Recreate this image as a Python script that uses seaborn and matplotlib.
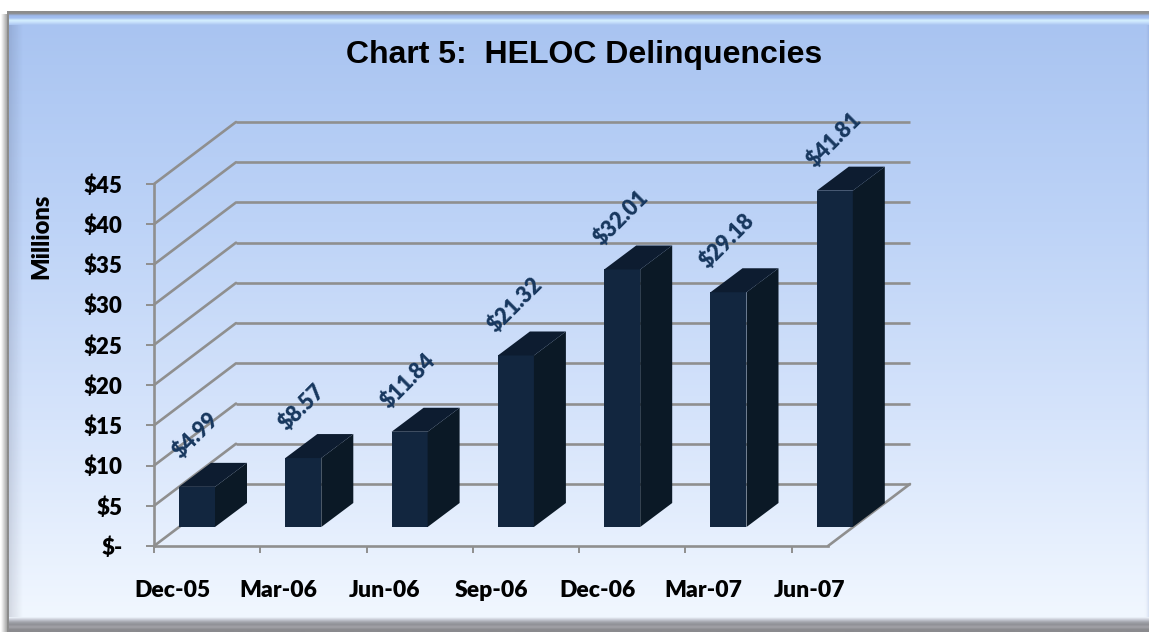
# Chart 5: HELOC delinquencies, fake 3D columns on a bevelled blue panel
import numpy as np
import pandas as pd
import matplotlib
matplotlib.use('Agg')
import matplotlib.pyplot as plt
from matplotlib.colors import LinearSegmentedColormap
from matplotlib.transforms import ScaledTranslation
import seaborn as sns

months = ['Dec-05', 'Mar-06', 'Jun-06', 'Sep-06', 'Dec-06', 'Mar-07', 'Jun-07']
values = [4.99, 8.57, 11.84, 21.32, 32.01, 29.18, 41.81]
value_labels = ['$4.99', '$8.57', '$11.84', '$21.32', '$32.01', '$29.18', '$41.81']
y_ticks = [0, 5, 10, 15, 20, 25, 30, 35, 40, 45]
y_tick_labels = ['$-', '$5', '$10', '$15', '$20', '$25', '$30', '$35', '$40', '$45']

W, H = 1149, 632
LEFT, RIGHT, BOTTOM, TOP = 154, 828, 546, 184
PX_X = 106.3                    # pixels per category
PX_Y = (BOTTOM - TOP) / 45      # pixels per dollar
GRID = '#8f8f8f'
BODY = 'Lato'

sns.set_theme(style='white')
plt.rcParams['font.family'] = [BODY, 'DejaVu Sans']

fig = plt.figure(figsize=(W / 100, H / 100), dpi=100, facecolor='white')

# panel background
bg = fig.add_axes([0, 0, 1, 1])


def band(x0, x1, y0, y1, colors, vertical=True):
    cmap = LinearSegmentedColormap.from_list('b', colors, N=256)
    g = np.linspace(0, 1, 256)
    g = g[:, None] if vertical else g[None, :]
    bg.imshow(g, cmap=cmap, extent=(x0, x1, y1, y0), aspect='auto',
              vmin=0, vmax=1, origin='upper', interpolation='bilinear')


band(1, 8, 14, H, [(0.55, 0.55, 0.55, 0), (0.55, 0.55, 0.55, 0.9)], vertical=False)
band(7, W, 24, 618, ['#a9c4f1', '#bdd3f7', '#d6e4fb', '#f1f7ff'])
band(9, 23, 24, 618, [(0, 0, 0.1, 0.12), (0, 0, 0.1, 0)], vertical=False)
band(1144, W, 24, 618, [(1, 1, 1, 0), (0.35, 0.45, 0.7, 0.18)], vertical=False)
band(7, W, 11, 25, ['#8c8c8c', '#8c8c8c', '#9db9ee', '#a4bff0', '#d6f1ff',
                    '#c3dcfa', '#a9c4f1'])
band(7, W, 617, H, ['#f1f7ff', '#c9ccd6', '#a2a4ac', '#8f9096', '#a3a3a8',
                    '#8a8a8e', '#8a8a8e'])
band(7, 9, 11, H, ['#8c8c8c', '#8c8c8c'])
bg.set_xlim(0, W)
bg.set_ylim(H, 0)
bg.axis('off')

bg.text(584, 55, 'Chart 5:  HELOC Delinquencies', family='Liberation Sans',
        weight='bold', fontsize=23, color='black', ha='center', va='center')
bg.text(41, 236, 'Millions', weight='heavy', fontsize=17, color='black',
        rotation=90, ha='center', va='center')

# plot area = front plane of the box
ax = fig.add_axes([LEFT / W, (H - BOTTOM) / H, (RIGHT - LEFT) / W, (BOTTOM - TOP) / H])
ax.patch.set_alpha(0)

df = pd.DataFrame({'month': months, 'value': values})
sns.barplot(data=df, x='month', y='value', color='#12263f', saturation=1,
            width=36 / PX_X, ax=ax, zorder=3, linewidth=0)

xmax = (RIGHT - LEFT) / PX_X
ax.set_xlim(0, xmax)
ax.set_ylim(0, 45)

# depth of the box walls and of the columns, pixels to data units
wall_dx, wall_dy = 82 / PX_X, 62 / PX_Y
bar_dx, bar_dy = 32 / PX_X, 24 / PX_Y
shift_x, shift_y = 43 / PX_X, 19 / PX_Y

# walls
for v in y_ticks:
    ax.plot([wall_dx, xmax + wall_dx], [v + wall_dy, v + wall_dy], color=GRID,
            lw=1.9, clip_on=False, zorder=1, solid_capstyle='butt')
    ax.plot([0, wall_dx], [v, v + wall_dy], color=GRID, lw=1.9, clip_on=False, zorder=1)
ax.plot([xmax, xmax + wall_dx], [0, wall_dy], color=GRID, lw=1.9, clip_on=False, zorder=1)

# move columns back, add the top and the side
for bar, lab in zip(ax.patches, value_labels):
    x0 = bar.get_x() + shift_x
    x1 = x0 + bar.get_width()
    h = bar.get_height()
    bar.set_x(x0)
    bar.set_y(shift_y)
    bar.set_clip_on(False)
    y0, y1 = shift_y, shift_y + h
    ax.fill([x1, x1 + bar_dx, x1 + bar_dx, x1], [y0, y0 + bar_dy, y1 + bar_dy, y1],
            color='#0b1926', lw=0, clip_on=False, zorder=3)
    ax.fill([x0, x0 + bar_dx, x1 + bar_dx, x1], [y1, y1 + bar_dy, y1 + bar_dy, y1],
            color='#0d1c30', lw=0, clip_on=False, zorder=3)
    ax.annotate(lab, (x0, y1), xytext=(17 * 0.72, 51 * 0.72), textcoords='offset points',
                rotation=45, rotation_mode='anchor', ha='center', va='center',
                fontsize=15.5, weight='heavy', color='#17375e', zorder=4,
                annotation_clip=False)

ax.set_xlabel('')
ax.set_ylabel('')
ax.set_xticks(range(len(months)))
ax.set_xticklabels(months, fontsize=16.5, weight='heavy', color='black')
ax.set_yticks(y_ticks)
ax.set_yticklabels(y_tick_labels, fontsize=16, weight='heavy', color='black')
ax.tick_params(axis='x', length=5, width=1.4, color=GRID, pad=19.5, bottom=True)
ax.tick_params(axis='y', length=5.5, width=1.4, color=GRID, pad=17, left=True)
for lbl in ax.get_xticklabels():
    lbl.set_transform(lbl.get_transform() + ScaledTranslation(18 / 100, 0, fig.dpi_scale_trans))

for side in ['top', 'right']:
    ax.spines[side].set_visible(False)
for side in ['left', 'bottom']:
    ax.spines[side].set_color(GRID)
    ax.spines[side].set_linewidth(1.9)

fig.savefig('out.png', dpi=100)
